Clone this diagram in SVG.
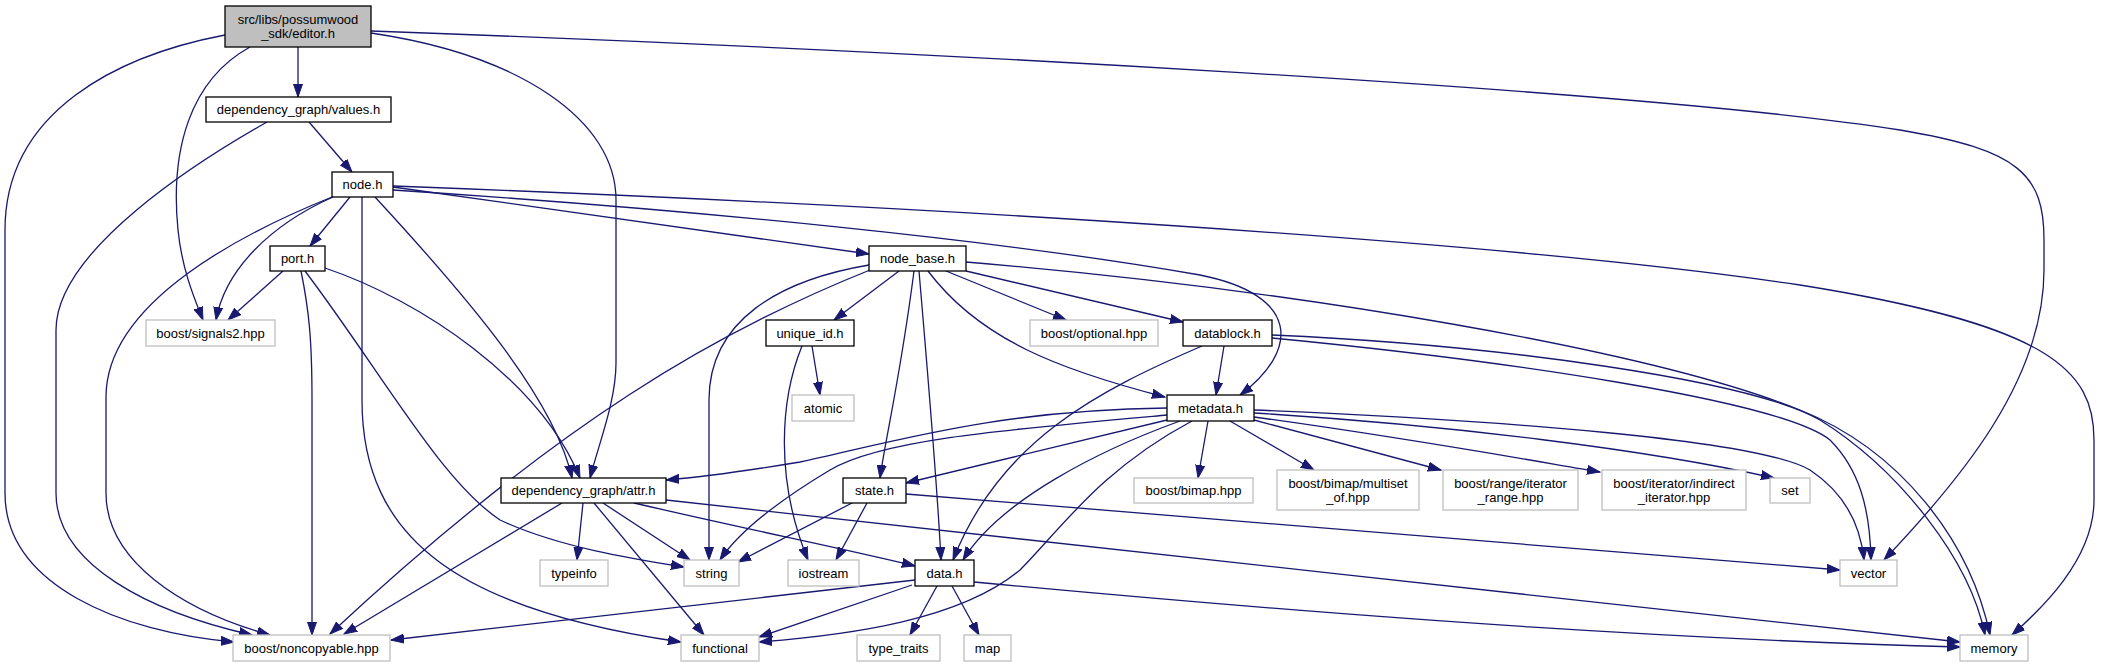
<svg xmlns="http://www.w3.org/2000/svg" width="2107" height="667" viewBox="0 0 2107 667">
<style>
.n rect{fill:#ffffff;stroke:#000000;stroke-width:1.3}
.x rect{fill:#ffffff;stroke:#bfbfbf;stroke-width:1.3}
.r rect{fill:#bfbfbf;stroke:#000000;stroke-width:1.3}
text{font-family:"Liberation Sans",Arial,sans-serif;font-size:13px;fill:#000;text-anchor:middle}
.e path{fill:none;stroke:#191970;stroke-width:1.3;marker-end:url(#a)}
</style>
<defs>
<marker id="a" markerWidth="14" markerHeight="10" refX="13" refY="5" orient="auto" markerUnits="userSpaceOnUse">
<path d="M0,0.5 L13,5 L0,9.5 z" fill="#191970" stroke="#191970" stroke-width="1"/>
</marker>
</defs>
<rect width="2107" height="667" fill="#ffffff"/>
<g id="edges" class="e">
<path d="M225,35 C120,55 5,110 5,230 L5,493 C5,585 120,632 234,642"/>
<path d="M250,47 C190,80 170,150 178,230 C182,270 195,300 203,320"/>
<path d="M298,47 L298,97"/>
<path d="M371,33 C520,55 616,120 616,200 L616,363 C616,400 600,440 590,478"/>
<path d="M371,31 C900,50 1650,90 1900,130 C2020,150 2044,175 2044,240 L2044,270 C2044,380 1960,480 1884,560"/>
<path d="M309,122 L352,172"/>
<path d="M267,122 C200,160 56,250 56,330 L56,493 C56,565 150,612 252,635"/>
<path d="M350,197 L310,246"/>
<path d="M393,187 L869,254"/>
<path d="M333,197 C270,225 225,270 216,320"/>
<path d="M332,197 C250,230 106,300 106,397 L106,493 C106,560 180,610 270,635"/>
<path d="M375,197 C470,300 555,400 572,478"/>
<path d="M362,197 L362,400 C362,540 460,610 681,642"/>
<path d="M393,190 C700,210 1000,240 1200,275 C1300,295 1300,350 1240,395"/>
<path d="M393,186 C900,205 1500,240 1800,285 C2050,325 2094,370 2094,440 L2094,500 C2094,560 2040,610 2012,635"/>
<path d="M283,271 L228,320"/>
<path d="M301,271 C309,310 312,340 312,400 L312,635"/>
<path d="M305,271 C380,370 440,480 500,520 C560,548 640,560 684,567"/>
<path d="M325,268 C420,300 540,380 580,478"/>
<path d="M899,271 L834,320"/>
<path d="M869,265 C780,280 709,320 709,400 L709,560"/>
<path d="M870,270 C720,330 560,420 330,634"/>
<path d="M914,271 C900,380 885,440 880,478"/>
<path d="M919,271 C930,400 937,480 941,560"/>
<path d="M928,271 C980,340 1060,370 1165,397"/>
<path d="M946,271 L1066,320"/>
<path d="M966,271 L1183,322"/>
<path d="M966,262 C1300,290 1650,350 1800,410 C1900,450 1970,540 1990,635"/>
<path d="M812,346 L820,395"/>
<path d="M802,346 C780,400 775,480 808,560"/>
<path d="M1224,346 L1216,395"/>
<path d="M1202,346 C1100,390 1000,440 953,560"/>
<path d="M1272,335 C1500,345 1750,380 1820,420 C1900,470 1970,560 1985,635"/>
<path d="M1272,338 C1500,360 1780,400 1830,440 C1860,470 1870,510 1871,560"/>
<path d="M1167,408 C1000,410 900,440 800,462 C740,472 690,478 666,480"/>
<path d="M1167,415 C1000,430 880,440 830,470 C780,500 740,530 720,560"/>
<path d="M1167,420 L906,483"/>
<path d="M1180,421 C1100,450 1000,500 963,560"/>
<path d="M1192,421 C1100,470 1060,530 1020,570 C960,620 850,635 759,642"/>
<path d="M1208,421 L1198,478"/>
<path d="M1230,421 L1314,470"/>
<path d="M1254,420 L1441,470"/>
<path d="M1254,417 C1400,437 1500,455 1600,472"/>
<path d="M1254,413 C1450,425 1650,450 1774,478"/>
<path d="M1254,410 C1500,420 1760,440 1810,470 C1840,490 1860,520 1864,560"/>
<path d="M562,503 L344,634"/>
<path d="M583,503 L577,560"/>
<path d="M603,503 L690,560"/>
<path d="M594,503 L704,635"/>
<path d="M634,503 C750,530 850,550 915,566"/>
<path d="M666,500 C1000,540 1600,600 1960,642"/>
<path d="M852,503 L738,562"/>
<path d="M867,503 L836,560"/>
<path d="M906,494 C1300,525 1600,550 1840,570"/>
<path d="M915,580 L391,640"/>
<path d="M912,585 L759,637"/>
<path d="M937,586 L910,635"/>
<path d="M952,586 L979,635"/>
<path d="M974,582 C1400,622 1700,640 1960,647"/>
</g>
<g id="editor_h" class="r"><rect x="225" y="6" width="146" height="41"/><text x="298" y="23.5">src/libs/possumwood</text><text x="298" y="37.5">_sdk/editor.h</text></g>
<g id="values_h" class="n"><rect x="206" y="97" width="185" height="25"/><text x="298.5" y="114">dependency_graph/values.h</text></g>
<g id="node_h" class="n"><rect x="332" y="172" width="61" height="25"/><text x="362.5" y="189">node.h</text></g>
<g id="port_h" class="n"><rect x="270" y="246" width="55" height="25"/><text x="297.5" y="263">port.h</text></g>
<g id="signals2_hpp" class="x"><rect x="146" y="320" width="129" height="26"/><text x="210.5" y="337.5">boost/signals2.hpp</text></g>
<g id="node_base_h" class="n"><rect x="869" y="246" width="97" height="25"/><text x="917.5" y="263">node_base.h</text></g>
<g id="unique_id_h" class="n"><rect x="766" y="320" width="88" height="26"/><text x="810" y="337.5">unique_id.h</text></g>
<g id="optional_hpp" class="x"><rect x="1030" y="320" width="128" height="26"/><text x="1094" y="337.5">boost/optional.hpp</text></g>
<g id="datablock_h" class="n"><rect x="1183" y="320" width="89" height="26"/><text x="1227.5" y="337.5">datablock.h</text></g>
<g id="atomic" class="x"><rect x="792" y="395" width="62" height="26"/><text x="823" y="412.5">atomic</text></g>
<g id="metadata_h" class="n"><rect x="1167" y="395" width="87" height="26"/><text x="1210.5" y="412.5">metadata.h</text></g>
<g id="attr_h" class="n"><rect x="501" y="478" width="165" height="25"/><text x="583.5" y="495">dependency_graph/attr.h</text></g>
<g id="state_h" class="n"><rect x="843" y="478" width="63" height="25"/><text x="874.5" y="495">state.h</text></g>
<g id="bimap_hpp" class="x"><rect x="1134" y="478" width="119" height="25"/><text x="1193.5" y="495">boost/bimap.hpp</text></g>
<g id="multiset_of_hpp" class="x"><rect x="1277" y="470" width="142" height="40"/><text x="1348" y="487.5">boost/bimap/multiset</text><text x="1348" y="501.5">_of.hpp</text></g>
<g id="iterator_range_hpp" class="x"><rect x="1443" y="470" width="135" height="40"/><text x="1510.5" y="487.5">boost/range/iterator</text><text x="1510.5" y="501.5">_range.hpp</text></g>
<g id="indirect_iterator_hpp" class="x"><rect x="1602" y="470" width="144" height="40"/><text x="1674" y="487.5">boost/iterator/indirect</text><text x="1674" y="501.5">_iterator.hpp</text></g>
<g id="set" class="x"><rect x="1770" y="478" width="40" height="25"/><text x="1790" y="495">set</text></g>
<g id="typeinfo" class="x"><rect x="540" y="560" width="68" height="26"/><text x="574" y="577.5">typeinfo</text></g>
<g id="string" class="x"><rect x="684" y="560" width="55" height="26"/><text x="711.5" y="577.5">string</text></g>
<g id="iostream" class="x"><rect x="788" y="560" width="71" height="26"/><text x="823.5" y="577.5">iostream</text></g>
<g id="data_h" class="n"><rect x="915" y="560" width="59" height="26"/><text x="944.5" y="577.5">data.h</text></g>
<g id="vector" class="x"><rect x="1840" y="560" width="57" height="26"/><text x="1868.5" y="577.5">vector</text></g>
<g id="noncopyable_hpp" class="x"><rect x="233" y="635" width="157" height="26"/><text x="311.5" y="652.5">boost/noncopyable.hpp</text></g>
<g id="functional" class="x"><rect x="681" y="635" width="78" height="26"/><text x="720" y="652.5">functional</text></g>
<g id="type_traits" class="x"><rect x="857" y="635" width="83" height="26"/><text x="898.5" y="652.5">type_traits</text></g>
<g id="map" class="x"><rect x="964" y="635" width="47" height="26"/><text x="987.5" y="652.5">map</text></g>
<g id="memory" class="x"><rect x="1960" y="635" width="68" height="26"/><text x="1994" y="652.5">memory</text></g>
</svg>
